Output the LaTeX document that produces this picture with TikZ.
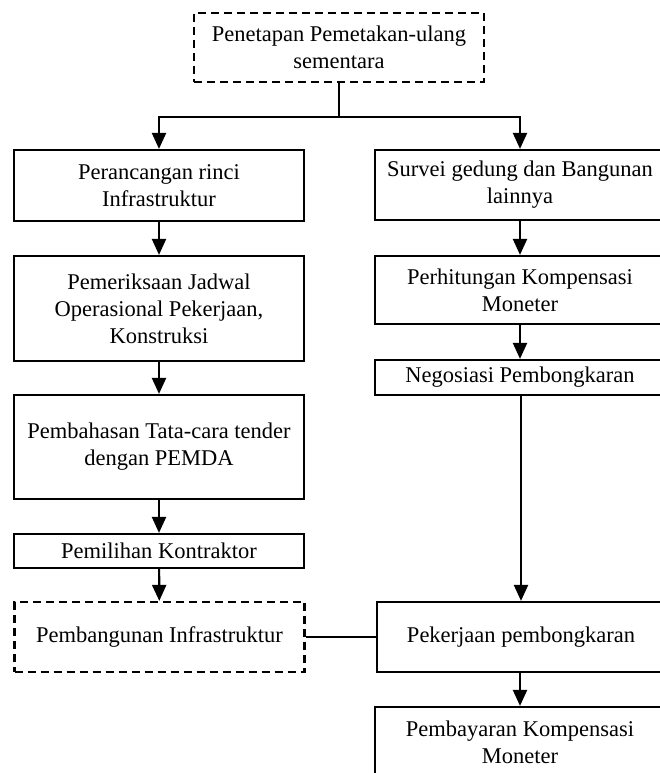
\documentclass[tikz,border=0pt]{standalone}
\usepackage{fontspec}
\setmainfont{Liberation Serif}
\usetikzlibrary{arrows.meta}
\begin{document}
\begin{tikzpicture}[x=1pt,y=-1pt,>={Triangle[width=14pt,length=16pt]},line join=miter,
	font=\fontsize{22.5}{27}\selectfont,
	kotak/.style={draw,line width=2.2pt,inner sep=0pt,minimum width=290pt,align=center},
	putus/.style={kotak,dash pattern=on 8pt off 5pt},
	panah/.style={->,line width=2.2pt}]
	\useasboundingbox (0,0) rectangle (659,773);
	\node[putus,minimum height=69pt] (tetap) at (339,47.5) {Penetapan Pemetakan-ulang\\sementara};
	\node[kotak,minimum height=71pt] (rancang) at (159,185.5) {Perancangan rinci\\Infrastruktur};
	\node[kotak,minimum height=105pt] (periksa) at (159,308.5) {Pemeriksaan Jadwal\\Operasional Pekerjaan,\\Konstruksi};
	\node[kotak,minimum height=104pt] (bahas) at (159,447) {Pembahasan Tata-cara tender\\dengan PEMDA};
	\node[kotak,minimum height=34pt] (pilih) at (159,551) {Pemilihan Kontraktor};
	\node[putus,minimum height=70pt] (bangun) at (159.5,637) {Pembangunan Infrastruktur};
	\node[kotak,minimum height=70pt] (survei) at (520,185) {Survei gedung dan Bangunan\\lainnya};
	\node[kotak,minimum height=68pt] (hitung) at (520,290) {Perhitungan Kompensasi\\Moneter};
	\node[kotak,minimum height=35pt] (nego) at (520,377.5) {Negosiasi Pembongkaran};
	\node[kotak,minimum height=70pt,minimum width=288pt] (bongkar) at (521,637) {Pekerjaan pembongkaran};
	\node[kotak,minimum height=70pt] (bayar) at (520,742) {Pembayaran Kompensasi\\Moneter};
	\draw[line width=2.2pt] (tetap.south) -- ++(0,34) coordinate (cabang);
	\draw[panah] (cabang) -| (rancang.north);
	\draw[panah] (cabang) -| (survei.north);
	\draw[panah] (rancang) -- (periksa);
	\draw[panah] (periksa) -- (bahas);
	\draw[panah] (bahas) -- (pilih);
	\draw[panah] (pilih) -- (bangun);
	\draw[panah] (survei) -- (hitung);
	\draw[panah] (hitung) -- (nego);
	\draw[panah] (nego.south -| bongkar.north) -- (bongkar.north);
	\draw[panah] (bongkar.south -| bayar.north) -- (bayar.north);
	\draw[line width=1.2pt] (bangun) -- (bongkar);
\end{tikzpicture}
\end{document}
